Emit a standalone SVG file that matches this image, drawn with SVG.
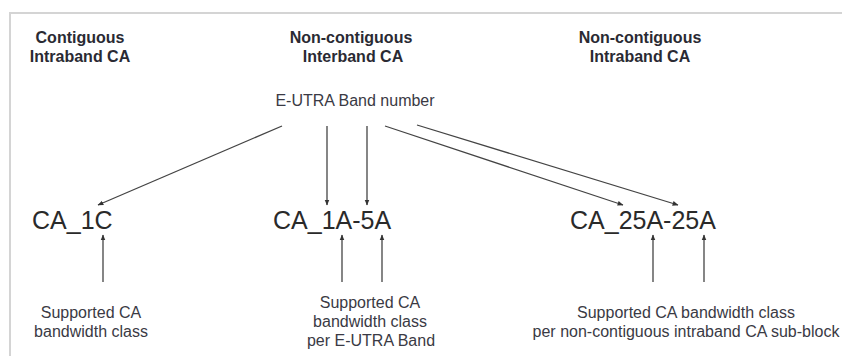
<svg xmlns="http://www.w3.org/2000/svg" width="842" height="356" viewBox="0 0 842 356">
<defs>
<marker id="ah" viewBox="0 0 10 10" refX="9" refY="5" markerWidth="6" markerHeight="6" markerUnits="userSpaceOnUse" orient="auto">
<path d="M0,1 L10,5 L0,9 z" fill="#333"/>
</marker>
<style>
.frame{stroke:#d4d4d4;stroke-width:2;fill:none}
.t{font-family:"Liberation Sans",Arial,sans-serif;font-weight:bold;font-size:16px;fill:#2a2a33;text-anchor:middle}
.l{font-family:"Liberation Sans",Arial,sans-serif;font-size:16px;fill:#3a3a44;text-anchor:middle}
.n{font-family:"Liberation Sans",Arial,sans-serif;font-size:25px;fill:#2a2a2a}
.c{stroke:#444;stroke-width:1.3;fill:none;marker-end:url(#ah)}
</style>
</defs>
<rect width="842" height="356" fill="#fff"/>
<path class="frame" d="M10,356 V13 H842"/>
<g id="title-contiguous"><text class="t" x="80" y="43">Contiguous</text><text class="t" x="80" y="62">Intraband CA</text></g>
<g id="title-interband"><text class="t" x="351" y="43">Non-contiguous</text><text class="t" x="353" y="62">Interband CA</text></g>
<g id="title-intraband"><text class="t" x="640" y="43">Non-contiguous</text><text class="t" x="640" y="62">Intraband CA</text></g>
<g id="band-number"><text class="l" x="355" y="106">E-UTRA Band number</text></g>
<g id="ca1c"><text class="n" x="32" y="229">CA_1C</text></g>
<g id="ca1a5a"><text class="n" x="273" y="229">CA_1A-5A</text></g>
<g id="ca25a25a"><text class="n" x="570" y="229">CA_25A-25A</text></g>
<g id="label-1c"><text class="l" x="91" y="318">Supported CA</text><text class="l" x="91" y="337">bandwidth class</text></g>
<g id="label-1a5a"><text class="l" x="370" y="308">Supported CA</text><text class="l" x="370" y="327">bandwidth class</text><text class="l" x="371" y="346">per E-UTRA Band</text></g>
<g id="label-25a"><text class="l" x="686" y="318">Supported CA bandwidth class</text><text class="l" x="686" y="337">per non-contiguous intraband CA sub-block</text></g>
<g id="connectors">
<line class="c" x1="282" y1="126" x2="98" y2="205"/>
<line class="c" x1="327" y1="126" x2="327" y2="205"/>
<line class="c" x1="367" y1="126" x2="367" y2="205"/>
<line class="c" x1="385" y1="126" x2="623" y2="205"/>
<line class="c" x1="417" y1="125" x2="678" y2="205"/>
<line class="c" x1="103" y1="282" x2="103" y2="235"/>
<line class="c" x1="342" y1="282" x2="342" y2="235"/>
<line class="c" x1="382" y1="282" x2="382" y2="235"/>
<line class="c" x1="653" y1="282" x2="653" y2="235"/>
<line class="c" x1="704" y1="282" x2="704" y2="235"/>
</g>
</svg>
